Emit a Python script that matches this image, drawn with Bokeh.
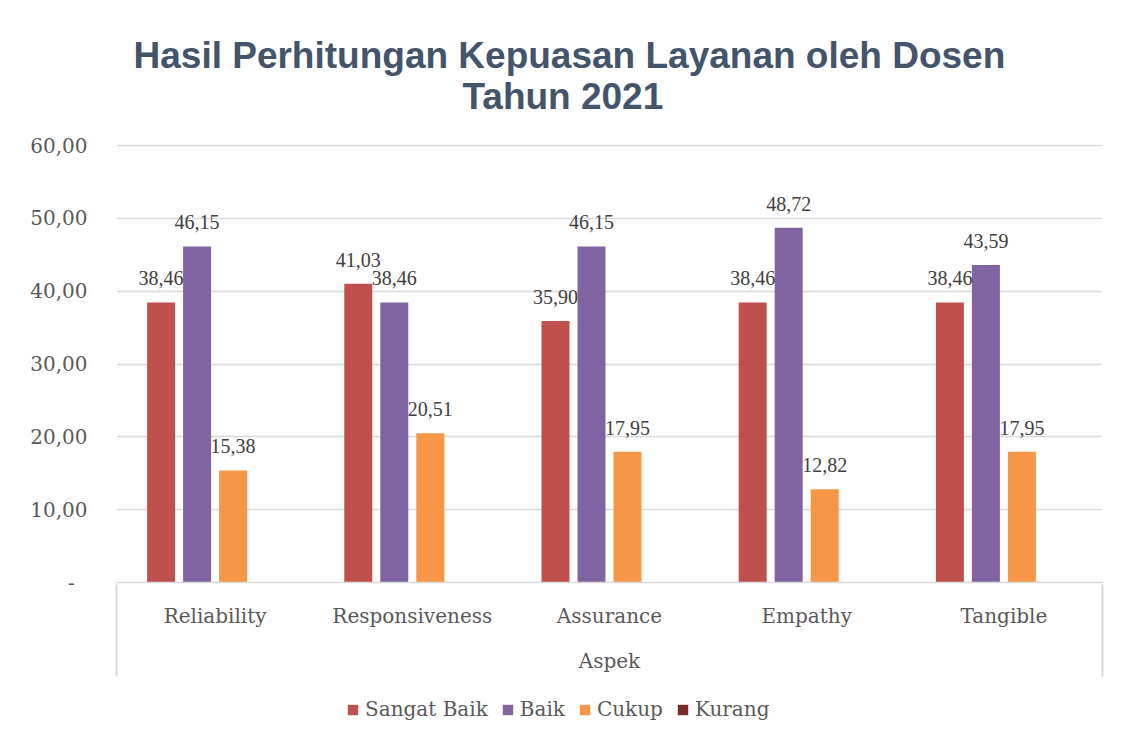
from bokeh.plotting import figure
from bokeh.layouts import column
from bokeh.models import (ColumnDataSource, FactorRange, FixedTicker, CustomJSTickFormatter,
                          LabelSet, Legend, LegendItem, Range1d, LinearAxis)
from bokeh.transform import dodge
from bokeh.embed import file_html
from bokeh.resources import INLINE

# ---------------- data ----------------
aspek = ["Reliability", "Responsiveness", "Assurance", "Empathy", "Tangible"]
series_names = ["Sangat Baik", "Baik", "Cukup", "Kurang"]
sangat_baik = [38.46, 41.03, 35.90, 38.46, 38.46]
baik = [46.15, 38.46, 46.15, 48.72, 43.59]
cukup = [15.38, 20.51, 17.95, 12.82, 17.95]
kurang = [0.0, 0.0, 0.0, 0.0, 0.0]
y_ticks = [0, 10, 20, 30, 40, 50, 60]
title_line1 = "Hasil Perhitungan Kepuasan Layanan oleh Dosen"
title_line2 = "Tahun 2021"
x_title = "Aspek"

# ---------------- styling ----------------
colors = ["#C0504D", "#8064A2", "#F79646", "#772C2A"]
W = 1111
H_MAIN, H_LEG = 690, 39
LEFT, RIGHT, TOP, BOTTOM = 116, 9, 144, 108
YMAX = 60.14
SERIF = "DejaVu Serif"
GREY = "#595959"
GRID = "#D9D9D9"
TITLE_C = "#44546A"
step = 0.1826
bar_w = 0.142
title_indent = "\u00a0" * 32


def fmt(v):
    return f"{v:.2f}".replace(".", ",")


cols = ["sb", "b", "c", "k"]
series = [sangat_baik, baik, cukup, kurang]
data = {"aspek": aspek}
for c, vals in zip(cols, series):
    data[c] = vals
    data[c + "_lbl"] = [fmt(v) if v > 0 else "" for v in vals]
src = ColumnDataSource(data)

n = len(aspek)
p = figure(width=W, height=H_MAIN, x_range=FactorRange(factors=aspek, range_padding=0),
           y_range=Range1d(0, YMAX), output_backend="svg", toolbar_location=None,
           min_border_left=LEFT, min_border_right=RIGHT, min_border_top=TOP,
           min_border_bottom=BOTTOM, outline_line_color=None,
           background_fill_color="white", border_fill_color="white")

# title (two centred lines)
p.title.text = title_line1 + "\n" + title_indent + title_line2
p.title.align = "left"
p.title.offset = 17
p.title.standoff = 56
p.title.text_line_height = 1.0
p.title.text_font = "Liberation Sans"
p.title.text_font_size = "37px"
p.title.text_font_style = "bold"
p.title.text_color = TITLE_C

# bars
offsets = [(-1.5 + i) * step for i in range(4)]
for c, color, off in zip(cols, colors, offsets):
    p.vbar(x=dodge("aspek", off, range=p.x_range), top=c, width=bar_w, source=src,
           fill_color=color, line_color=None)
    if c != "k":
        lbl = LabelSet(x=dodge("aspek", off, range=p.x_range), y=c, text=c + "_lbl", source=src,
                       text_align="center", text_baseline="alphabetic", y_offset=17,
                       text_font=SERIF, text_font_size="20px", text_color="#404040")
        p.add_layout(lbl)

# y axis
p.yaxis.ticker = FixedTicker(ticks=y_ticks)
p.yaxis.formatter = CustomJSTickFormatter(
    code='return tick == 0 ? "-\\u00a0\\u00a0" : tick.toFixed(2).replace(".", ",");')
p.yaxis.axis_line_color = None
p.yaxis.major_tick_line_color = None
p.yaxis.minor_tick_line_color = None
p.yaxis.major_label_standoff = 23
p.yaxis.major_label_text_font = SERIF
p.yaxis.major_label_text_font_size = "20px"
p.yaxis.major_label_text_color = GREY

# category axis
p.xaxis.axis_line_color = GRID
p.xaxis.axis_line_width = 1.5
p.xaxis.major_tick_line_color = None
p.xaxis.minor_tick_line_color = None
p.xaxis.major_label_standoff = 15
p.xaxis.major_label_text_font = SERIF
p.xaxis.major_label_text_font_size = "20px"
p.xaxis.major_label_text_color = GREY
p.xaxis.axis_label = x_title
p.xaxis.axis_label_standoff = 18
p.xaxis.axis_label_text_font = SERIF
p.xaxis.axis_label_text_font_size = "20px"
p.xaxis.axis_label_text_font_style = "normal"
p.xaxis.axis_label_text_color = GREY

# edge lines of the category box (ticks of an unlabeled axis pointing up to the frame)
edge_axis = LinearAxis(ticker=FixedTicker(ticks=[0, n]),
                       formatter=CustomJSTickFormatter(code='return "\\u00a0";'),
                       axis_line_color=None, major_tick_line_color=GRID, major_tick_line_width=2,
                       major_tick_in=91, major_tick_out=1, minor_tick_line_color=None,
                       major_label_text_font_size="2px", major_label_text_alpha=0,
                       major_label_standoff=0)
p.add_layout(edge_axis, "below")

p.xgrid.grid_line_color = None
p.ygrid.grid_line_color = GRID
p.ygrid.grid_line_width = 1.5

# legend strip below the chart (zero-height proxy bars carry the legend swatches)
p2 = figure(width=W, height=H_LEG, x_range=Range1d(0, 1), y_range=Range1d(0, 1),
            x_axis_location=None, y_axis_location=None, output_backend="svg",
            toolbar_location=None, min_border=0, outline_line_color=None,
            background_fill_color="white", border_fill_color="white")
p2.grid.visible = False
leg_renderers = [p2.vbar(x=[0], top=[0], width=0, fill_color=color, line_color=None)
                 for color in colors]
legend = Legend(items=[LegendItem(label=nm, renderers=[r]) for nm, r in zip(series_names, leg_renderers)],
                orientation="horizontal", location=(230, 8), glyph_width=13, glyph_height=13,
                label_standoff=6, spacing=13, padding=0, margin=0, border_line_color=None,
                background_fill_alpha=0, label_text_font=SERIF, label_text_font_size="20px",
                label_text_color=GREY)
p2.add_layout(legend)

layout = column(p, p2, spacing=0)
open("out.html", "w").write(file_html(layout, INLINE))
